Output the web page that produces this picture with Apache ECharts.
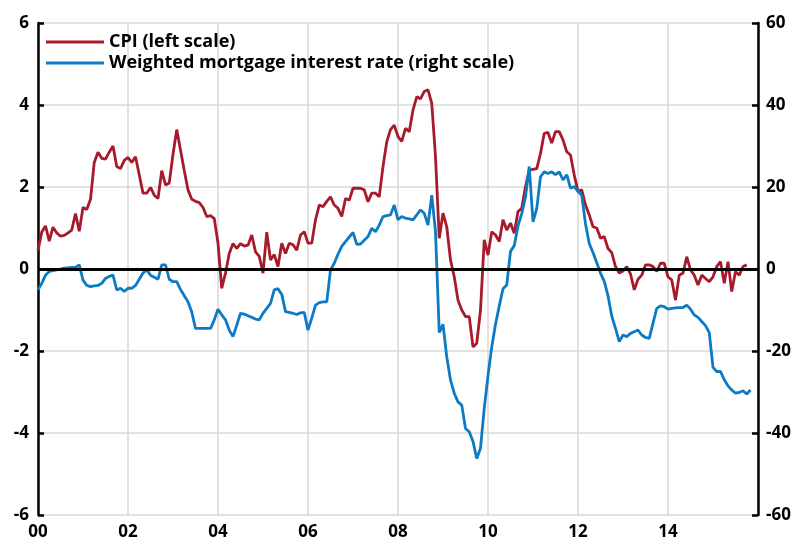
<!DOCTYPE html>
<html>
<head>
<meta charset="utf-8">
<script src="https://cdn.jsdelivr.net/npm/echarts@6/dist/echarts.min.js"></script>
<style>
  html, body { margin: 0; padding: 0; background: #fff; }
  #main { width: 795px; height: 548px; }
</style>
</head>
<body>
<div id="main"></div>
<script>
// monthly values, starting January 2000
var cpi = [
  0.45, 0.9, 1.05, 0.68, 1.02, 0.88, 0.8, 0.82, 0.88, 0.95, 1.35, 0.92,
  1.5, 1.45, 1.7, 2.6, 2.85, 2.7, 2.68, 2.85, 3.0, 2.5, 2.45, 2.65,
  2.72, 2.6, 2.74, 2.3, 1.85, 1.85, 1.99, 1.8, 1.72, 2.4, 2.05, 2.1,
  2.8, 3.4, 2.9, 2.4, 1.93, 1.7, 1.65, 1.62, 1.5, 1.28, 1.3, 1.23,
  0.63, -0.47, -0.1, 0.38, 0.62, 0.5, 0.62, 0.56, 0.58, 0.83, 0.42, 0.31,
  -0.1, 0.9, 0.22, 0.35, 0.06, 0.63, 0.38, 0.63, 0.59, 0.46, 0.83, 0.91,
  0.63, 0.63, 1.2, 1.56, 1.52, 1.65, 1.76, 1.56, 1.48, 1.28, 1.72, 1.68,
  1.97, 1.97, 1.97, 1.93, 1.64, 1.85, 1.85, 1.76, 2.5, 3.1, 3.4, 3.51,
  3.23, 3.11, 3.43, 3.35, 3.88, 4.2, 4.15, 4.33, 4.37, 4.04, 2.74, 0.75,
  1.36, 1.03, 0.22, -0.19, -0.76, -1.0, -1.16, -1.16, -1.9, -1.81, -1.0, 0.71,
  0.34, 0.91, 0.83, 0.67, 1.2, 0.95, 1.12, 0.87, 1.4, 1.48, 2.01, 2.41,
  2.43, 2.45, 2.82, 3.31, 3.33, 3.07, 3.35, 3.35, 3.15, 2.86, 2.78, 2.29,
  1.89, 1.93, 1.56, 1.32, 1.03, 1.0, 0.75, 0.79, 0.5, 0.4, 0.06, -0.1,
  -0.05, 0.06, -0.12, -0.51, -0.25, -0.15, 0.1, 0.1, 0.06, -0.06, 0.14, 0.14,
  -0.19, -0.27, -0.76, -0.15, -0.1, 0.3, -0.02, -0.15, -0.39, -0.15, -0.23, -0.31,
  -0.19, 0.06, 0.18, -0.35, 0.18, -0.55, -0.06, -0.15, 0.06, 0.1
];
var mortgage = [
  -5.1, -3.5, -1.5, -0.6, -0.4, -0.2, 0.0, 0.2, 0.3, 0.4, 0.4, 1.0,
  -2.7, -4.0, -4.3, -4.1, -4.0, -3.5, -2.3, -1.8, -1.5, -5.1, -4.7, -5.5,
  -4.7, -4.7, -4.0, -2.5, -1.0, -0.2, -1.5, -2.0, -2.5, 1.0, 1.0, -2.5,
  -3.1, -3.1, -5.0, -6.5, -8.0, -10.5, -14.5, -14.5, -14.5, -14.5, -14.5, -12.4,
  -9.8, -11.2, -12.4, -14.9, -16.5, -13.7, -10.8, -11.0, -11.4, -11.8, -12.2, -12.4,
  -10.8, -9.6, -8.4, -5.1, -4.8, -6.2, -10.4, -10.6, -10.8, -11.1, -10.7, -10.6,
  -14.9, -12.0, -8.8, -8.2, -8.0, -8.0, -0.2, 1.4, 3.6, 5.5, 6.7, 7.8,
  8.9, 6.0, 6.1, 7.0, 7.9, 9.9, 9.1, 10.7, 12.8, 13.0, 13.2, 15.6,
  12.0, 12.8, 12.4, 12.2, 12.0, 13.2, 14.4, 13.6, 10.7, 18.0, 9.1, -15.5,
  -13.5, -21.4, -27.1, -30.3, -32.4, -33.2, -38.9, -39.7, -42.1, -46.2, -43.7, -34.0,
  -26.0, -19.0, -13.5, -9.0, -4.8, -3.9, 4.3, 5.7, 10.5, 13.5, 17.5, 25.0,
  11.5, 14.8, 22.5, 23.7, 23.3, 23.7, 23.0, 23.7, 21.7, 23.0, 19.7, 20.1,
  18.9, 18.0, 11.0, 6.2, 4.0, 1.5, -1.0, -3.0, -6.5, -11.5, -14.5, -17.7,
  -16.1, -16.5, -15.7, -15.3, -14.9, -16.1, -16.7, -16.9, -13.2, -9.6, -9.0, -9.2,
  -9.8, -9.6, -9.5, -9.4, -9.4, -8.8, -9.8, -11.2, -11.8, -12.8, -13.8, -15.5,
  -24.0, -25.0, -25.0, -27.0, -28.5, -29.5, -30.3, -30.1, -29.7, -30.5, -29.5
];
var yearLabels = ['00', '02', '04', '06', '08', '10', '12', '14'];
var seriesNames = ['CPI (left scale)', 'Weighted mortgage interest rate (right scale)'];

function toPoints(arr) {
  return arr.map(function (v, i) { return [i / 12, v]; });
}

var labelFont = { color: '#000', fontFamily: 'Open Sans', fontWeight: 'bold', fontSize: 17 };

var myChart = echarts.init(document.getElementById('main'));
var option = {
  animation: false,
  grid: { left: 38, right: 37, top: 23, bottom: 33 },
  legend: {
    orient: 'vertical',
    left: 41,
    top: 28,
    itemWidth: 58,
    itemHeight: 3,
    itemGap: 3,
    icon: 'rect',
    textStyle: { color: '#000', fontFamily: 'Open Sans', fontWeight: 'bold', fontSize: 18 },
    data: seriesNames
  },
  xAxis: {
    type: 'value',
    min: 0,
    max: 16,
    interval: 2,
    axisLine: { show: false },
    axisTick: { show: false },
    axisLabel: Object.assign({
      margin: 9,
      formatter: function (v) { return yearLabels[v / 2] || ''; }
    }, labelFont),
    splitLine: { show: true, lineStyle: { color: '#d9d9d9', width: 1.5 } }
  },
  yAxis: [{
    type: 'value',
    min: -6,
    max: 6,
    interval: 2,
    axisLine: { show: true, lineStyle: { color: '#000', width: 2.5 } },
    axisTick: { show: true, inside: true, length: 6, lineStyle: { color: '#000', width: 2.5 } },
    axisLabel: Object.assign({ margin: 9 }, labelFont),
    splitLine: { show: true, lineStyle: { color: '#d9d9d9', width: 1.5 } }
  }, {
    type: 'value',
    min: -60,
    max: 60,
    interval: 20,
    position: 'right',
    axisLine: { show: true, lineStyle: { color: '#000', width: 2.5 } },
    axisTick: { show: true, inside: true, length: 6, lineStyle: { color: '#000', width: 2.5 } },
    axisLabel: Object.assign({ margin: 8 }, labelFont),
    splitLine: { show: false }
  }],
  series: [{
    name: seriesNames[0],
    type: 'line',
    yAxisIndex: 0,
    showSymbol: false,
    color: '#a8192b',
    lineStyle: { width: 2.8 },
    data: toPoints(cpi),
    markLine: {
      silent: true,
      symbol: 'none',
      label: { show: false },
      lineStyle: { color: '#000', width: 2.8, type: 'solid' },
      data: [{ yAxis: 0 }]
    }
  }, {
    name: seriesNames[1],
    type: 'line',
    yAxisIndex: 1,
    showSymbol: false,
    color: '#0d7ac4',
    lineStyle: { width: 2.8 },
    data: toPoints(mortgage)
  }]
};
myChart.setOption(option);
</script>
</body>
</html>
